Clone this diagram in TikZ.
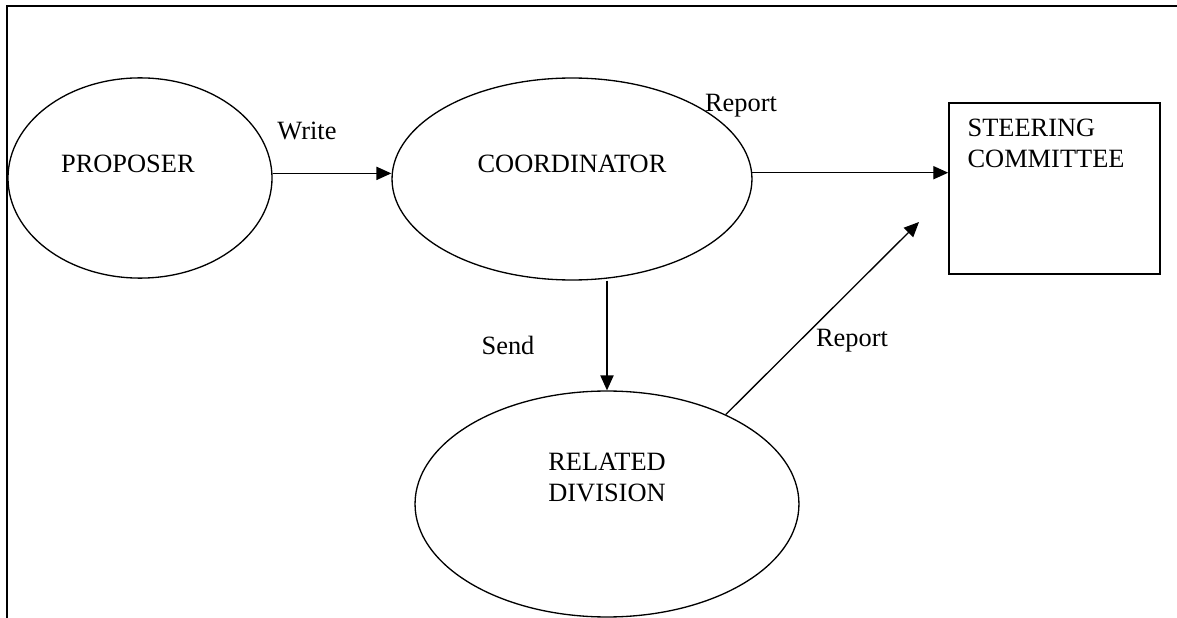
\documentclass[tikz,border=0pt]{standalone}
\usepackage{fontspec}
\setmainfont{Liberation Serif}
\usepackage{tikz}
\usetikzlibrary{shapes.geometric,arrows.meta}
\tikzset{%
    bubble/.style={%
        draw, ellipse, line width=0.6pt, inner sep=0pt
    },
    flow/.style={->, line width=0.6pt}
}

\begin{document}
\begin{tikzpicture}[x=0.4545pt,y=-0.4545pt,>={Triangle[length=6.8pt,width=6pt]},font=\fontsize{12}{13.8}\selectfont]
    \useasboundingbox (0,0) rectangle (1177,618);
    \draw[line width=1pt] (7,618)--(7,6)--(1177,6);
    \node[bubble, minimum width=120pt, minimum height=91pt,
          label={[yshift=6.4pt,xshift=-5.5pt]center:PROPOSER}] (prop) at (140,178) {};
    \node[bubble, minimum width=163.6pt, minimum height=91.8pt,
          label={[yshift=6.8pt]center:COORDINATOR}] (coord) at (572,179) {};
    \node[bubble, minimum width=174.5pt, minimum height=102.7pt,
          label={[yshift=12pt,align=center]center:RELATED\\DIVISION}] (rel) at (607,504) {};
    \node[draw, line width=0.7pt, minimum width=95.9pt, minimum height=77.7pt,
          label={[anchor=north west, align=left, inner sep=0pt, xshift=8.6pt, yshift=-7.6pt]north west:STEERING\\COMMITTEE}] (steer) at (1054.5,188.5) {};
    \coordinate (rptend) at (919,222);
	\draw[flow] (prop.2)--(prop.2 -| coord.west);   
	\draw[flow] (coord.2)--(coord.2 -| steer.west);   
	\draw[flow] (coord.south -| rel.north)--(rel.north);   
	\draw[flow] (rel.37)--(rptend);   
    \node[] (lwrite) at (307,131) {Write};
    \node[] (lrep) at (741,106) {Report};
    \node[] (lsend) at (508,345) {Send};
    \node[] (lrep2) at (852,341) {Report};
\end{tikzpicture}
\end{document}
